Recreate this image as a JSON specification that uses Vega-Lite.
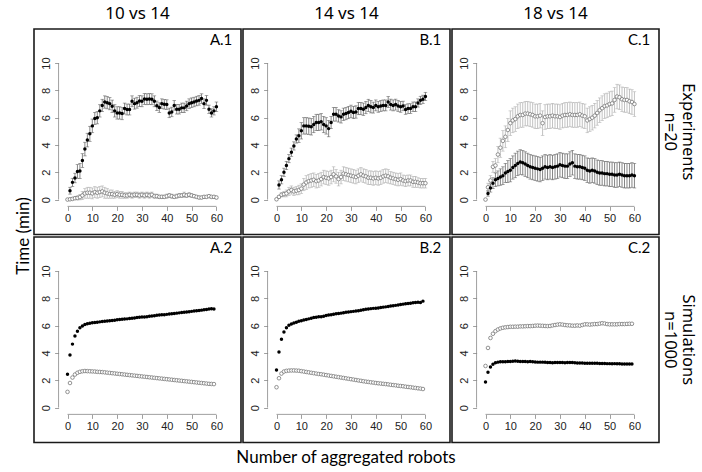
{
"$schema":"https://vega.github.io/schema/vega-lite/v6.json",
"background":"white",
"padding":{"left":14,"top":5,"right":0,"bottom":5},
"data":{"values":[
{"p":"A1","s":"f","x":1,"y":0.65,"e":0.25},{"p":"A1","s":"f","x":2,"y":1.26,"e":0.3},{"p":"A1","s":"f","x":3,"y":1.58,"e":0.35},{"p":"A1","s":"f","x":4,"y":2.06,"e":0.5},{"p":"A1","s":"f","x":5,"y":2.1,"e":0.55},{"p":"A1","s":"f","x":6,"y":2.86,"e":0.5},{"p":"A1","s":"f","x":7,"y":3.7,"e":0.5},{"p":"A1","s":"f","x":8,"y":4.36,"e":0.5},{"p":"A1","s":"f","x":9,"y":4.82,"e":0.55},{"p":"A1","s":"f","x":10,"y":5.4,"e":0.5},
{"p":"A1","s":"f","x":11,"y":5.94,"e":0.45},{"p":"A1","s":"f","x":12,"y":6.0,"e":0.45},{"p":"A1","s":"f","x":13,"y":6.5,"e":0.45},{"p":"A1","s":"f","x":14,"y":6.9,"e":0.45},{"p":"A1","s":"f","x":15,"y":7.15,"e":0.45},{"p":"A1","s":"f","x":16,"y":7.1,"e":0.45},{"p":"A1","s":"f","x":17,"y":7.03,"e":0.45},{"p":"A1","s":"f","x":18,"y":6.84,"e":0.45},{"p":"A1","s":"f","x":19,"y":6.5,"e":0.45},{"p":"A1","s":"f","x":20,"y":6.35,"e":0.45},
{"p":"A1","s":"f","x":21,"y":6.35,"e":0.45},{"p":"A1","s":"f","x":22,"y":6.3,"e":0.45},{"p":"A1","s":"f","x":23,"y":6.67,"e":0.4},{"p":"A1","s":"f","x":24,"y":6.6,"e":0.4},{"p":"A1","s":"f","x":25,"y":6.6,"e":0.4},{"p":"A1","s":"f","x":26,"y":7.2,"e":0.4},{"p":"A1","s":"f","x":27,"y":7.03,"e":0.4},{"p":"A1","s":"f","x":28,"y":7.1,"e":0.4},{"p":"A1","s":"f","x":29,"y":7.22,"e":0.4},{"p":"A1","s":"f","x":30,"y":7.2,"e":0.4},
{"p":"A1","s":"f","x":31,"y":7.37,"e":0.4},{"p":"A1","s":"f","x":32,"y":7.35,"e":0.4},{"p":"A1","s":"f","x":33,"y":7.37,"e":0.4},{"p":"A1","s":"f","x":34,"y":7.35,"e":0.4},{"p":"A1","s":"f","x":35,"y":7.2,"e":0.4},{"p":"A1","s":"f","x":36,"y":6.87,"e":0.35},{"p":"A1","s":"f","x":37,"y":6.74,"e":0.35},{"p":"A1","s":"f","x":38,"y":7.03,"e":0.35},{"p":"A1","s":"f","x":39,"y":6.98,"e":0.35},{"p":"A1","s":"f","x":40,"y":6.96,"e":0.35},
{"p":"A1","s":"f","x":41,"y":6.35,"e":0.35},{"p":"A1","s":"f","x":42,"y":6.42,"e":0.35},{"p":"A1","s":"f","x":43,"y":6.9,"e":0.35},{"p":"A1","s":"f","x":44,"y":6.62,"e":0.35},{"p":"A1","s":"f","x":45,"y":6.62,"e":0.35},{"p":"A1","s":"f","x":46,"y":6.72,"e":0.35},{"p":"A1","s":"f","x":47,"y":6.72,"e":0.35},{"p":"A1","s":"f","x":48,"y":6.86,"e":0.35},{"p":"A1","s":"f","x":49,"y":7.03,"e":0.35},{"p":"A1","s":"f","x":50,"y":7.1,"e":0.35},
{"p":"A1","s":"f","x":51,"y":7.15,"e":0.35},{"p":"A1","s":"f","x":52,"y":7.22,"e":0.35},{"p":"A1","s":"f","x":53,"y":7.27,"e":0.35},{"p":"A1","s":"f","x":54,"y":7.4,"e":0.35},{"p":"A1","s":"f","x":55,"y":7.03,"e":0.35},{"p":"A1","s":"f","x":56,"y":7.27,"e":0.35},{"p":"A1","s":"f","x":57,"y":6.62,"e":0.3},{"p":"A1","s":"f","x":58,"y":6.35,"e":0.3},{"p":"A1","s":"f","x":59,"y":6.5,"e":0.3},{"p":"A1","s":"f","x":60,"y":6.8,"e":0.35},
{"p":"A1","s":"o","x":0,"y":0,"e":0},{"p":"A1","s":"o","x":1,"y":0.02,"e":0.05},{"p":"A1","s":"o","x":2,"y":0.05,"e":0.08},{"p":"A1","s":"o","x":3,"y":0.1,"e":0.1},{"p":"A1","s":"o","x":4,"y":0.12,"e":0.15},{"p":"A1","s":"o","x":5,"y":0.18,"e":0.2},{"p":"A1","s":"o","x":6,"y":0.3,"e":0.3},{"p":"A1","s":"o","x":7,"y":0.45,"e":0.35},{"p":"A1","s":"o","x":8,"y":0.5,"e":0.4},{"p":"A1","s":"o","x":9,"y":0.5,"e":0.4},{"p":"A1","s":"o","x":10,"y":0.45,"e":0.4},
{"p":"A1","s":"o","x":11,"y":0.55,"e":0.4},{"p":"A1","s":"o","x":12,"y":0.5,"e":0.4},{"p":"A1","s":"o","x":13,"y":0.55,"e":0.4},{"p":"A1","s":"o","x":14,"y":0.6,"e":0.4},{"p":"A1","s":"o","x":15,"y":0.5,"e":0.4},{"p":"A1","s":"o","x":16,"y":0.45,"e":0.35},{"p":"A1","s":"o","x":17,"y":0.4,"e":0.3},{"p":"A1","s":"o","x":18,"y":0.4,"e":0.3},{"p":"A1","s":"o","x":19,"y":0.35,"e":0.25},{"p":"A1","s":"o","x":20,"y":0.4,"e":0.25},
{"p":"A1","s":"o","x":21,"y":0.35,"e":0.25},{"p":"A1","s":"o","x":22,"y":0.35,"e":0.25},{"p":"A1","s":"o","x":23,"y":0.3,"e":0.2},{"p":"A1","s":"o","x":24,"y":0.3,"e":0.2},{"p":"A1","s":"o","x":25,"y":0.35,"e":0.2},{"p":"A1","s":"o","x":26,"y":0.3,"e":0.2},{"p":"A1","s":"o","x":27,"y":0.35,"e":0.2},{"p":"A1","s":"o","x":28,"y":0.35,"e":0.2},{"p":"A1","s":"o","x":29,"y":0.3,"e":0.2},{"p":"A1","s":"o","x":30,"y":0.35,"e":0.2},
{"p":"A1","s":"o","x":31,"y":0.3,"e":0.2},{"p":"A1","s":"o","x":32,"y":0.35,"e":0.2},{"p":"A1","s":"o","x":33,"y":0.3,"e":0.2},{"p":"A1","s":"o","x":34,"y":0.35,"e":0.2},{"p":"A1","s":"o","x":35,"y":0.25,"e":0.15},{"p":"A1","s":"o","x":36,"y":0.25,"e":0.15},{"p":"A1","s":"o","x":37,"y":0.2,"e":0.12},{"p":"A1","s":"o","x":38,"y":0.2,"e":0.12},{"p":"A1","s":"o","x":39,"y":0.2,"e":0.12},{"p":"A1","s":"o","x":40,"y":0.25,"e":0.15},
{"p":"A1","s":"o","x":41,"y":0.3,"e":0.15},{"p":"A1","s":"o","x":42,"y":0.25,"e":0.15},{"p":"A1","s":"o","x":43,"y":0.2,"e":0.12},{"p":"A1","s":"o","x":44,"y":0.25,"e":0.15},{"p":"A1","s":"o","x":45,"y":0.3,"e":0.15},{"p":"A1","s":"o","x":46,"y":0.3,"e":0.15},{"p":"A1","s":"o","x":47,"y":0.35,"e":0.2},{"p":"A1","s":"o","x":48,"y":0.3,"e":0.15},{"p":"A1","s":"o","x":49,"y":0.35,"e":0.15},{"p":"A1","s":"o","x":50,"y":0.3,"e":0.15},
{"p":"A1","s":"o","x":51,"y":0.25,"e":0.12},{"p":"A1","s":"o","x":52,"y":0.2,"e":0.1},{"p":"A1","s":"o","x":53,"y":0.15,"e":0.1},{"p":"A1","s":"o","x":54,"y":0.15,"e":0.1},{"p":"A1","s":"o","x":55,"y":0.2,"e":0.1},{"p":"A1","s":"o","x":56,"y":0.2,"e":0.1},{"p":"A1","s":"o","x":57,"y":0.25,"e":0.1},{"p":"A1","s":"o","x":58,"y":0.2,"e":0.1},{"p":"A1","s":"o","x":59,"y":0.2,"e":0.1},{"p":"A1","s":"o","x":60,"y":0.15,"e":0.1},

{"p":"B1","s":"f","x":1,"y":1.07,"e":0.3},{"p":"B1","s":"f","x":2,"y":1.45,"e":0.3},{"p":"B1","s":"f","x":3,"y":2.0,"e":0.3},{"p":"B1","s":"f","x":4,"y":2.5,"e":0.3},{"p":"B1","s":"f","x":5,"y":3.0,"e":0.3},{"p":"B1","s":"f","x":6,"y":3.47,"e":0.3},{"p":"B1","s":"f","x":7,"y":3.93,"e":0.3},{"p":"B1","s":"f","x":8,"y":4.44,"e":0.3},{"p":"B1","s":"f","x":9,"y":4.68,"e":0.5},{"p":"B1","s":"f","x":10,"y":5.04,"e":0.6},
{"p":"B1","s":"f","x":11,"y":5.4,"e":0.6},{"p":"B1","s":"f","x":12,"y":5.4,"e":0.6},{"p":"B1","s":"f","x":13,"y":5.38,"e":0.6},{"p":"B1","s":"f","x":14,"y":5.33,"e":0.6},{"p":"B1","s":"f","x":15,"y":5.5,"e":0.6},{"p":"B1","s":"f","x":16,"y":5.65,"e":0.6},{"p":"B1","s":"f","x":17,"y":5.65,"e":0.6},{"p":"B1","s":"f","x":18,"y":5.7,"e":0.6},{"p":"B1","s":"f","x":19,"y":5.5,"e":0.6},{"p":"B1","s":"f","x":20,"y":5.4,"e":0.6},
{"p":"B1","s":"f","x":21,"y":5.2,"e":0.6},{"p":"B1","s":"f","x":22,"y":5.65,"e":0.45},{"p":"B1","s":"f","x":23,"y":6.25,"e":0.5},{"p":"B1","s":"f","x":24,"y":6.25,"e":0.5},{"p":"B1","s":"f","x":25,"y":6.13,"e":0.45},{"p":"B1","s":"f","x":26,"y":6.06,"e":0.45},{"p":"B1","s":"f","x":27,"y":6.25,"e":0.45},{"p":"B1","s":"f","x":28,"y":6.3,"e":0.45},{"p":"B1","s":"f","x":29,"y":6.38,"e":0.45},{"p":"B1","s":"f","x":30,"y":6.47,"e":0.45},
{"p":"B1","s":"f","x":31,"y":6.38,"e":0.45},{"p":"B1","s":"f","x":32,"y":6.42,"e":0.45},{"p":"B1","s":"f","x":33,"y":6.67,"e":0.45},{"p":"B1","s":"f","x":34,"y":6.67,"e":0.45},{"p":"B1","s":"f","x":35,"y":6.62,"e":0.45},{"p":"B1","s":"f","x":36,"y":6.74,"e":0.45},{"p":"B1","s":"f","x":37,"y":6.9,"e":0.45},{"p":"B1","s":"f","x":38,"y":6.8,"e":0.45},{"p":"B1","s":"f","x":39,"y":6.74,"e":0.4},{"p":"B1","s":"f","x":40,"y":6.9,"e":0.4},
{"p":"B1","s":"f","x":41,"y":6.8,"e":0.4},{"p":"B1","s":"f","x":42,"y":6.86,"e":0.4},{"p":"B1","s":"f","x":43,"y":6.9,"e":0.4},{"p":"B1","s":"f","x":44,"y":6.9,"e":0.4},{"p":"B1","s":"f","x":45,"y":7.15,"e":0.4},{"p":"B1","s":"f","x":46,"y":6.96,"e":0.4},{"p":"B1","s":"f","x":47,"y":6.9,"e":0.4},{"p":"B1","s":"f","x":48,"y":6.96,"e":0.4},{"p":"B1","s":"f","x":49,"y":6.86,"e":0.4},{"p":"B1","s":"f","x":50,"y":6.8,"e":0.4},
{"p":"B1","s":"f","x":51,"y":6.86,"e":0.35},{"p":"B1","s":"f","x":52,"y":6.6,"e":0.35},{"p":"B1","s":"f","x":53,"y":6.67,"e":0.35},{"p":"B1","s":"f","x":54,"y":6.67,"e":0.35},{"p":"B1","s":"f","x":55,"y":6.8,"e":0.35},{"p":"B1","s":"f","x":56,"y":6.8,"e":0.35},{"p":"B1","s":"f","x":57,"y":7.08,"e":0.3},{"p":"B1","s":"f","x":58,"y":7.27,"e":0.3},{"p":"B1","s":"f","x":59,"y":7.35,"e":0.3},{"p":"B1","s":"f","x":60,"y":7.56,"e":0.3},
{"p":"B1","s":"o","x":0,"y":0.02,"e":0.05},{"p":"B1","s":"o","x":1,"y":0.2,"e":0.1},{"p":"B1","s":"o","x":2,"y":0.35,"e":0.15},{"p":"B1","s":"o","x":3,"y":0.4,"e":0.2},{"p":"B1","s":"o","x":4,"y":0.45,"e":0.25},{"p":"B1","s":"o","x":5,"y":0.6,"e":0.3},{"p":"B1","s":"o","x":6,"y":0.7,"e":0.3},{"p":"B1","s":"o","x":7,"y":0.6,"e":0.3},{"p":"B1","s":"o","x":8,"y":0.65,"e":0.3},{"p":"B1","s":"o","x":9,"y":0.7,"e":0.35},{"p":"B1","s":"o","x":10,"y":0.8,"e":0.35},
{"p":"B1","s":"o","x":11,"y":1.1,"e":0.45},{"p":"B1","s":"o","x":12,"y":1.25,"e":0.5},{"p":"B1","s":"o","x":13,"y":1.35,"e":0.5},{"p":"B1","s":"o","x":14,"y":1.4,"e":0.5},{"p":"B1","s":"o","x":15,"y":1.45,"e":0.5},{"p":"B1","s":"o","x":16,"y":1.35,"e":0.5},{"p":"B1","s":"o","x":17,"y":1.4,"e":0.5},{"p":"B1","s":"o","x":18,"y":1.5,"e":0.5},{"p":"B1","s":"o","x":19,"y":1.65,"e":0.5},{"p":"B1","s":"o","x":20,"y":1.6,"e":0.5},
{"p":"B1","s":"o","x":21,"y":1.55,"e":0.5},{"p":"B1","s":"o","x":22,"y":1.65,"e":0.5},{"p":"B1","s":"o","x":23,"y":1.85,"e":0.55},{"p":"B1","s":"o","x":24,"y":1.7,"e":0.5},{"p":"B1","s":"o","x":25,"y":1.5,"e":0.5},{"p":"B1","s":"o","x":26,"y":1.65,"e":0.5},{"p":"B1","s":"o","x":27,"y":1.9,"e":0.5},{"p":"B1","s":"o","x":28,"y":1.85,"e":0.5},{"p":"B1","s":"o","x":29,"y":1.8,"e":0.5},{"p":"B1","s":"o","x":30,"y":1.75,"e":0.5},
{"p":"B1","s":"o","x":31,"y":1.7,"e":0.5},{"p":"B1","s":"o","x":32,"y":1.65,"e":0.5},{"p":"B1","s":"o","x":33,"y":1.75,"e":0.5},{"p":"B1","s":"o","x":34,"y":1.85,"e":0.5},{"p":"B1","s":"o","x":35,"y":1.75,"e":0.5},{"p":"B1","s":"o","x":36,"y":1.7,"e":0.5},{"p":"B1","s":"o","x":37,"y":1.6,"e":0.5},{"p":"B1","s":"o","x":38,"y":1.6,"e":0.5},{"p":"B1","s":"o","x":39,"y":1.55,"e":0.5},{"p":"B1","s":"o","x":40,"y":1.6,"e":0.5},
{"p":"B1","s":"o","x":41,"y":1.55,"e":0.5},{"p":"B1","s":"o","x":42,"y":1.6,"e":0.5},{"p":"B1","s":"o","x":43,"y":1.7,"e":0.5},{"p":"B1","s":"o","x":44,"y":1.75,"e":0.5},{"p":"B1","s":"o","x":45,"y":1.7,"e":0.5},{"p":"B1","s":"o","x":46,"y":1.6,"e":0.45},{"p":"B1","s":"o","x":47,"y":1.55,"e":0.45},{"p":"B1","s":"o","x":48,"y":1.5,"e":0.45},{"p":"B1","s":"o","x":49,"y":1.45,"e":0.45},{"p":"B1","s":"o","x":50,"y":1.5,"e":0.45},
{"p":"B1","s":"o","x":51,"y":1.4,"e":0.4},{"p":"B1","s":"o","x":52,"y":1.35,"e":0.4},{"p":"B1","s":"o","x":53,"y":1.4,"e":0.4},{"p":"B1","s":"o","x":54,"y":1.4,"e":0.4},{"p":"B1","s":"o","x":55,"y":1.3,"e":0.4},{"p":"B1","s":"o","x":56,"y":1.3,"e":0.4},{"p":"B1","s":"o","x":57,"y":1.25,"e":0.35},{"p":"B1","s":"o","x":58,"y":1.2,"e":0.35},{"p":"B1","s":"o","x":59,"y":1.2,"e":0.35},{"p":"B1","s":"o","x":60,"y":1.2,"e":0.35},

{"p":"C1","s":"o","x":0,"y":0,"e":0},{"p":"C1","s":"o","x":1,"y":0.9,"e":0.3},{"p":"C1","s":"o","x":2,"y":1.4,"e":0.35},{"p":"C1","s":"o","x":3,"y":2.4,"e":0.4},{"p":"C1","s":"o","x":4,"y":2.5,"e":0.5},{"p":"C1","s":"o","x":5,"y":3.3,"e":0.6},{"p":"C1","s":"o","x":6,"y":3.8,"e":0.7},{"p":"C1","s":"o","x":7,"y":4.3,"e":0.75},{"p":"C1","s":"o","x":8,"y":4.6,"e":0.8},{"p":"C1","s":"o","x":9,"y":5.1,"e":0.85},{"p":"C1","s":"o","x":10,"y":5.6,"e":0.9},
{"p":"C1","s":"o","x":11,"y":5.8,"e":0.9},{"p":"C1","s":"o","x":12,"y":5.9,"e":0.9},{"p":"C1","s":"o","x":13,"y":6.1,"e":0.9},{"p":"C1","s":"o","x":14,"y":6.2,"e":0.9},{"p":"C1","s":"o","x":15,"y":6.2,"e":0.9},{"p":"C1","s":"o","x":16,"y":6.3,"e":0.9},{"p":"C1","s":"o","x":17,"y":6.3,"e":0.9},{"p":"C1","s":"o","x":18,"y":6.25,"e":0.9},{"p":"C1","s":"o","x":19,"y":6.2,"e":0.9},{"p":"C1","s":"o","x":20,"y":6.1,"e":0.9},
{"p":"C1","s":"o","x":21,"y":6.1,"e":0.9},{"p":"C1","s":"o","x":22,"y":6.15,"e":0.9},{"p":"C1","s":"o","x":23,"y":5.6,"e":0.9},{"p":"C1","s":"o","x":24,"y":6.05,"e":0.9},{"p":"C1","s":"o","x":25,"y":6.1,"e":0.9},{"p":"C1","s":"o","x":26,"y":6.1,"e":0.9},{"p":"C1","s":"o","x":27,"y":6.15,"e":0.9},{"p":"C1","s":"o","x":28,"y":6.1,"e":0.9},{"p":"C1","s":"o","x":29,"y":6.1,"e":0.9},{"p":"C1","s":"o","x":30,"y":6.05,"e":0.9},
{"p":"C1","s":"o","x":31,"y":6.15,"e":0.9},{"p":"C1","s":"o","x":32,"y":6.2,"e":0.9},{"p":"C1","s":"o","x":33,"y":6.2,"e":0.9},{"p":"C1","s":"o","x":34,"y":6.25,"e":0.9},{"p":"C1","s":"o","x":35,"y":6.2,"e":0.9},{"p":"C1","s":"o","x":36,"y":6.2,"e":0.9},{"p":"C1","s":"o","x":37,"y":6.2,"e":0.9},{"p":"C1","s":"o","x":38,"y":6.25,"e":0.9},{"p":"C1","s":"o","x":39,"y":6.15,"e":0.9},{"p":"C1","s":"o","x":40,"y":6.1,"e":0.9},
{"p":"C1","s":"o","x":41,"y":5.8,"e":0.9},{"p":"C1","s":"o","x":42,"y":5.9,"e":0.9},{"p":"C1","s":"o","x":43,"y":6.0,"e":0.9},{"p":"C1","s":"o","x":44,"y":6.15,"e":0.9},{"p":"C1","s":"o","x":45,"y":6.35,"e":0.9},{"p":"C1","s":"o","x":46,"y":6.55,"e":0.9},{"p":"C1","s":"o","x":47,"y":6.7,"e":0.9},{"p":"C1","s":"o","x":48,"y":6.85,"e":0.9},{"p":"C1","s":"o","x":49,"y":6.9,"e":0.9},{"p":"C1","s":"o","x":50,"y":7.0,"e":0.9},
{"p":"C1","s":"o","x":51,"y":7.05,"e":0.9},{"p":"C1","s":"o","x":52,"y":7.3,"e":0.9},{"p":"C1","s":"o","x":53,"y":7.55,"e":0.9},{"p":"C1","s":"o","x":54,"y":7.5,"e":0.9},{"p":"C1","s":"o","x":55,"y":7.35,"e":0.9},{"p":"C1","s":"o","x":56,"y":7.3,"e":0.9},{"p":"C1","s":"o","x":57,"y":7.3,"e":0.9},{"p":"C1","s":"o","x":58,"y":7.2,"e":0.9},{"p":"C1","s":"o","x":59,"y":7.15,"e":0.9},{"p":"C1","s":"o","x":60,"y":7.0,"e":0.9},
{"p":"C1","s":"f","x":1,"y":0.45,"e":0.2},{"p":"C1","s":"f","x":2,"y":0.85,"e":0.3},{"p":"C1","s":"f","x":3,"y":1.2,"e":0.4},{"p":"C1","s":"f","x":4,"y":1.45,"e":0.5},{"p":"C1","s":"f","x":5,"y":1.55,"e":0.55},{"p":"C1","s":"f","x":6,"y":1.65,"e":0.6},{"p":"C1","s":"f","x":7,"y":1.75,"e":0.65},{"p":"C1","s":"f","x":8,"y":1.95,"e":0.7},{"p":"C1","s":"f","x":9,"y":2.05,"e":0.8},{"p":"C1","s":"f","x":10,"y":2.15,"e":0.85},
{"p":"C1","s":"f","x":11,"y":2.35,"e":0.85},{"p":"C1","s":"f","x":12,"y":2.5,"e":0.9},{"p":"C1","s":"f","x":13,"y":2.65,"e":0.9},{"p":"C1","s":"f","x":14,"y":2.75,"e":0.9},{"p":"C1","s":"f","x":15,"y":2.7,"e":0.9},{"p":"C1","s":"f","x":16,"y":2.6,"e":0.9},{"p":"C1","s":"f","x":17,"y":2.5,"e":0.9},{"p":"C1","s":"f","x":18,"y":2.4,"e":0.9},{"p":"C1","s":"f","x":19,"y":2.35,"e":0.9},{"p":"C1","s":"f","x":20,"y":2.3,"e":0.9},
{"p":"C1","s":"f","x":21,"y":2.25,"e":0.9},{"p":"C1","s":"f","x":22,"y":2.2,"e":0.9},{"p":"C1","s":"f","x":23,"y":2.3,"e":0.9},{"p":"C1","s":"f","x":24,"y":2.4,"e":0.9},{"p":"C1","s":"f","x":25,"y":2.35,"e":0.9},{"p":"C1","s":"f","x":26,"y":2.4,"e":0.9},{"p":"C1","s":"f","x":27,"y":2.35,"e":0.9},{"p":"C1","s":"f","x":28,"y":2.4,"e":0.9},{"p":"C1","s":"f","x":29,"y":2.45,"e":0.9},{"p":"C1","s":"f","x":30,"y":2.55,"e":0.9},
{"p":"C1","s":"f","x":31,"y":2.5,"e":0.9},{"p":"C1","s":"f","x":32,"y":2.45,"e":0.9},{"p":"C1","s":"f","x":33,"y":2.45,"e":0.9},{"p":"C1","s":"f","x":34,"y":2.6,"e":0.9},{"p":"C1","s":"f","x":35,"y":2.7,"e":0.9},{"p":"C1","s":"f","x":36,"y":2.45,"e":0.9},{"p":"C1","s":"f","x":37,"y":2.4,"e":0.9},{"p":"C1","s":"f","x":38,"y":2.4,"e":0.9},{"p":"C1","s":"f","x":39,"y":2.35,"e":0.9},{"p":"C1","s":"f","x":40,"y":2.3,"e":0.9},
{"p":"C1","s":"f","x":41,"y":2.15,"e":0.9},{"p":"C1","s":"f","x":42,"y":2.1,"e":0.9},{"p":"C1","s":"f","x":43,"y":2.15,"e":0.9},{"p":"C1","s":"f","x":44,"y":2.1,"e":0.9},{"p":"C1","s":"f","x":45,"y":2.0,"e":0.9},{"p":"C1","s":"f","x":46,"y":1.95,"e":0.9},{"p":"C1","s":"f","x":47,"y":1.95,"e":0.9},{"p":"C1","s":"f","x":48,"y":1.9,"e":0.9},{"p":"C1","s":"f","x":49,"y":1.9,"e":0.9},{"p":"C1","s":"f","x":50,"y":1.85,"e":0.9},
{"p":"C1","s":"f","x":51,"y":1.85,"e":0.9},{"p":"C1","s":"f","x":52,"y":1.8,"e":0.9},{"p":"C1","s":"f","x":53,"y":1.8,"e":0.9},{"p":"C1","s":"f","x":54,"y":1.85,"e":0.9},{"p":"C1","s":"f","x":55,"y":1.8,"e":0.9},{"p":"C1","s":"f","x":56,"y":1.75,"e":0.9},{"p":"C1","s":"f","x":57,"y":1.75,"e":0.9},{"p":"C1","s":"f","x":58,"y":1.75,"e":0.9},{"p":"C1","s":"f","x":59,"y":1.8,"e":0.9},{"p":"C1","s":"f","x":60,"y":1.75,"e":0.9},

{"p":"A2","s":"f","x":0,"y":2.44},{"p":"A2","s":"f","x":1,"y":3.85},{"p":"A2","s":"f","x":2,"y":4.65},{"p":"A2","s":"f","x":3,"y":5.24},{"p":"A2","s":"f","x":4,"y":5.6},{"p":"A2","s":"f","x":5,"y":5.85},{"p":"A2","s":"f","x":6,"y":5.98},{"p":"A2","s":"f","x":7,"y":6.08},{"p":"A2","s":"f","x":8,"y":6.14},{"p":"A2","s":"f","x":9,"y":6.18},
{"p":"A2","s":"f","x":10,"y":6.22},{"p":"A2","s":"f","x":11,"y":6.24},{"p":"A2","s":"f","x":12,"y":6.26},{"p":"A2","s":"f","x":13,"y":6.28},{"p":"A2","s":"f","x":14,"y":6.3},{"p":"A2","s":"f","x":15,"y":6.32},{"p":"A2","s":"f","x":16,"y":6.34},{"p":"A2","s":"f","x":17,"y":6.36},{"p":"A2","s":"f","x":18,"y":6.38},{"p":"A2","s":"f","x":19,"y":6.4},
{"p":"A2","s":"f","x":20,"y":6.44},{"p":"A2","s":"f","x":21,"y":6.45},{"p":"A2","s":"f","x":22,"y":6.47},{"p":"A2","s":"f","x":23,"y":6.49},{"p":"A2","s":"f","x":24,"y":6.5},{"p":"A2","s":"f","x":25,"y":6.53},{"p":"A2","s":"f","x":26,"y":6.55},{"p":"A2","s":"f","x":27,"y":6.56},{"p":"A2","s":"f","x":28,"y":6.6},{"p":"A2","s":"f","x":29,"y":6.62},
{"p":"A2","s":"f","x":30,"y":6.63},{"p":"A2","s":"f","x":31,"y":6.64},{"p":"A2","s":"f","x":32,"y":6.66},{"p":"A2","s":"f","x":33,"y":6.7},{"p":"A2","s":"f","x":34,"y":6.71},{"p":"A2","s":"f","x":35,"y":6.73},{"p":"A2","s":"f","x":36,"y":6.77},{"p":"A2","s":"f","x":37,"y":6.79},{"p":"A2","s":"f","x":38,"y":6.8},{"p":"A2","s":"f","x":39,"y":6.81},
{"p":"A2","s":"f","x":40,"y":6.83},{"p":"A2","s":"f","x":41,"y":6.85},{"p":"A2","s":"f","x":42,"y":6.87},{"p":"A2","s":"f","x":43,"y":6.9},{"p":"A2","s":"f","x":44,"y":6.92},{"p":"A2","s":"f","x":45,"y":6.94},{"p":"A2","s":"f","x":46,"y":6.97},{"p":"A2","s":"f","x":47,"y":6.99},{"p":"A2","s":"f","x":48,"y":7.01},{"p":"A2","s":"f","x":49,"y":7.02},
{"p":"A2","s":"f","x":50,"y":7.05},{"p":"A2","s":"f","x":51,"y":7.07},{"p":"A2","s":"f","x":52,"y":7.1},{"p":"A2","s":"f","x":53,"y":7.12},{"p":"A2","s":"f","x":54,"y":7.14},{"p":"A2","s":"f","x":55,"y":7.17},{"p":"A2","s":"f","x":56,"y":7.19},{"p":"A2","s":"f","x":57,"y":7.22},{"p":"A2","s":"f","x":58,"y":7.24},{"p":"A2","s":"f","x":59,"y":7.22},
{"p":"A2","s":"o","x":0,"y":1.15},{"p":"A2","s":"o","x":1,"y":1.8},{"p":"A2","s":"o","x":2,"y":2.2},{"p":"A2","s":"o","x":3,"y":2.42},{"p":"A2","s":"o","x":4,"y":2.55},{"p":"A2","s":"o","x":5,"y":2.62},{"p":"A2","s":"o","x":6,"y":2.66},{"p":"A2","s":"o","x":7,"y":2.68},{"p":"A2","s":"o","x":8,"y":2.67},{"p":"A2","s":"o","x":9,"y":2.66},
{"p":"A2","s":"o","x":10,"y":2.65},{"p":"A2","s":"o","x":11,"y":2.64},{"p":"A2","s":"o","x":12,"y":2.62},{"p":"A2","s":"o","x":13,"y":2.61},{"p":"A2","s":"o","x":14,"y":2.6},{"p":"A2","s":"o","x":15,"y":2.58},{"p":"A2","s":"o","x":16,"y":2.56},{"p":"A2","s":"o","x":17,"y":2.54},{"p":"A2","s":"o","x":18,"y":2.52},{"p":"A2","s":"o","x":19,"y":2.5},
{"p":"A2","s":"o","x":20,"y":2.48},{"p":"A2","s":"o","x":21,"y":2.46},{"p":"A2","s":"o","x":22,"y":2.44},{"p":"A2","s":"o","x":23,"y":2.42},{"p":"A2","s":"o","x":24,"y":2.4},{"p":"A2","s":"o","x":25,"y":2.38},{"p":"A2","s":"o","x":26,"y":2.36},{"p":"A2","s":"o","x":27,"y":2.34},{"p":"A2","s":"o","x":28,"y":2.32},{"p":"A2","s":"o","x":29,"y":2.3},
{"p":"A2","s":"o","x":30,"y":2.28},{"p":"A2","s":"o","x":31,"y":2.26},{"p":"A2","s":"o","x":32,"y":2.24},{"p":"A2","s":"o","x":33,"y":2.22},{"p":"A2","s":"o","x":34,"y":2.2},{"p":"A2","s":"o","x":35,"y":2.18},{"p":"A2","s":"o","x":36,"y":2.16},{"p":"A2","s":"o","x":37,"y":2.14},{"p":"A2","s":"o","x":38,"y":2.12},{"p":"A2","s":"o","x":39,"y":2.1},
{"p":"A2","s":"o","x":40,"y":2.08},{"p":"A2","s":"o","x":41,"y":2.06},{"p":"A2","s":"o","x":42,"y":2.04},{"p":"A2","s":"o","x":43,"y":2.02},{"p":"A2","s":"o","x":44,"y":2.0},{"p":"A2","s":"o","x":45,"y":1.98},{"p":"A2","s":"o","x":46,"y":1.96},{"p":"A2","s":"o","x":47,"y":1.94},{"p":"A2","s":"o","x":48,"y":1.92},{"p":"A2","s":"o","x":49,"y":1.9},
{"p":"A2","s":"o","x":50,"y":1.88},{"p":"A2","s":"o","x":51,"y":1.86},{"p":"A2","s":"o","x":52,"y":1.84},{"p":"A2","s":"o","x":53,"y":1.82},{"p":"A2","s":"o","x":54,"y":1.8},{"p":"A2","s":"o","x":55,"y":1.78},{"p":"A2","s":"o","x":56,"y":1.76},{"p":"A2","s":"o","x":57,"y":1.74},{"p":"A2","s":"o","x":58,"y":1.73},{"p":"A2","s":"o","x":59,"y":1.72},

{"p":"B2","s":"f","x":0,"y":2.76},{"p":"B2","s":"f","x":1,"y":4.07},{"p":"B2","s":"f","x":2,"y":5.0},{"p":"B2","s":"f","x":3,"y":5.54},{"p":"B2","s":"f","x":4,"y":5.85},{"p":"B2","s":"f","x":5,"y":6.03},{"p":"B2","s":"f","x":6,"y":6.12},{"p":"B2","s":"f","x":7,"y":6.2},{"p":"B2","s":"f","x":8,"y":6.26},{"p":"B2","s":"f","x":9,"y":6.32},
{"p":"B2","s":"f","x":10,"y":6.37},{"p":"B2","s":"f","x":11,"y":6.41},{"p":"B2","s":"f","x":12,"y":6.46},{"p":"B2","s":"f","x":13,"y":6.5},{"p":"B2","s":"f","x":14,"y":6.55},{"p":"B2","s":"f","x":15,"y":6.6},{"p":"B2","s":"f","x":16,"y":6.62},{"p":"B2","s":"f","x":17,"y":6.65},{"p":"B2","s":"f","x":18,"y":6.66},{"p":"B2","s":"f","x":19,"y":6.7},
{"p":"B2","s":"f","x":20,"y":6.74},{"p":"B2","s":"f","x":21,"y":6.78},{"p":"B2","s":"f","x":22,"y":6.8},{"p":"B2","s":"f","x":23,"y":6.84},{"p":"B2","s":"f","x":24,"y":6.87},{"p":"B2","s":"f","x":25,"y":6.9},{"p":"B2","s":"f","x":26,"y":6.92},{"p":"B2","s":"f","x":27,"y":6.95},{"p":"B2","s":"f","x":28,"y":6.98},{"p":"B2","s":"f","x":29,"y":7.0},
{"p":"B2","s":"f","x":30,"y":7.03},{"p":"B2","s":"f","x":31,"y":7.05},{"p":"B2","s":"f","x":32,"y":7.08},{"p":"B2","s":"f","x":33,"y":7.1},{"p":"B2","s":"f","x":34,"y":7.13},{"p":"B2","s":"f","x":35,"y":7.17},{"p":"B2","s":"f","x":36,"y":7.2},{"p":"B2","s":"f","x":37,"y":7.22},{"p":"B2","s":"f","x":38,"y":7.25},{"p":"B2","s":"f","x":39,"y":7.27},
{"p":"B2","s":"f","x":40,"y":7.28},{"p":"B2","s":"f","x":41,"y":7.3},{"p":"B2","s":"f","x":42,"y":7.33},{"p":"B2","s":"f","x":43,"y":7.36},{"p":"B2","s":"f","x":44,"y":7.38},{"p":"B2","s":"f","x":45,"y":7.41},{"p":"B2","s":"f","x":46,"y":7.44},{"p":"B2","s":"f","x":47,"y":7.46},{"p":"B2","s":"f","x":48,"y":7.49},{"p":"B2","s":"f","x":49,"y":7.52},
{"p":"B2","s":"f","x":50,"y":7.55},{"p":"B2","s":"f","x":51,"y":7.58},{"p":"B2","s":"f","x":52,"y":7.61},{"p":"B2","s":"f","x":53,"y":7.63},{"p":"B2","s":"f","x":54,"y":7.65},{"p":"B2","s":"f","x":55,"y":7.68},{"p":"B2","s":"f","x":56,"y":7.7},{"p":"B2","s":"f","x":57,"y":7.72},{"p":"B2","s":"f","x":58,"y":7.7},{"p":"B2","s":"f","x":59,"y":7.8},
{"p":"B2","s":"o","x":0,"y":1.49},{"p":"B2","s":"o","x":1,"y":2.15},{"p":"B2","s":"o","x":2,"y":2.49},{"p":"B2","s":"o","x":3,"y":2.64},{"p":"B2","s":"o","x":4,"y":2.69},{"p":"B2","s":"o","x":5,"y":2.71},{"p":"B2","s":"o","x":6,"y":2.72},{"p":"B2","s":"o","x":7,"y":2.72},{"p":"B2","s":"o","x":8,"y":2.71},{"p":"B2","s":"o","x":9,"y":2.7},
{"p":"B2","s":"o","x":10,"y":2.67},{"p":"B2","s":"o","x":11,"y":2.64},{"p":"B2","s":"o","x":12,"y":2.61},{"p":"B2","s":"o","x":13,"y":2.58},{"p":"B2","s":"o","x":14,"y":2.55},{"p":"B2","s":"o","x":15,"y":2.52},{"p":"B2","s":"o","x":16,"y":2.49},{"p":"B2","s":"o","x":17,"y":2.46},{"p":"B2","s":"o","x":18,"y":2.44},{"p":"B2","s":"o","x":19,"y":2.41},
{"p":"B2","s":"o","x":20,"y":2.38},{"p":"B2","s":"o","x":21,"y":2.35},{"p":"B2","s":"o","x":22,"y":2.32},{"p":"B2","s":"o","x":23,"y":2.29},{"p":"B2","s":"o","x":24,"y":2.26},{"p":"B2","s":"o","x":25,"y":2.23},{"p":"B2","s":"o","x":26,"y":2.2},{"p":"B2","s":"o","x":27,"y":2.17},{"p":"B2","s":"o","x":28,"y":2.14},{"p":"B2","s":"o","x":29,"y":2.11},
{"p":"B2","s":"o","x":30,"y":2.08},{"p":"B2","s":"o","x":31,"y":2.05},{"p":"B2","s":"o","x":32,"y":2.02},{"p":"B2","s":"o","x":33,"y":1.99},{"p":"B2","s":"o","x":34,"y":1.96},{"p":"B2","s":"o","x":35,"y":1.93},{"p":"B2","s":"o","x":36,"y":1.9},{"p":"B2","s":"o","x":37,"y":1.88},{"p":"B2","s":"o","x":38,"y":1.85},{"p":"B2","s":"o","x":39,"y":1.83},
{"p":"B2","s":"o","x":40,"y":1.8},{"p":"B2","s":"o","x":41,"y":1.78},{"p":"B2","s":"o","x":42,"y":1.76},{"p":"B2","s":"o","x":43,"y":1.74},{"p":"B2","s":"o","x":44,"y":1.72},{"p":"B2","s":"o","x":45,"y":1.7},{"p":"B2","s":"o","x":46,"y":1.67},{"p":"B2","s":"o","x":47,"y":1.65},{"p":"B2","s":"o","x":48,"y":1.63},{"p":"B2","s":"o","x":49,"y":1.6},
{"p":"B2","s":"o","x":50,"y":1.58},{"p":"B2","s":"o","x":51,"y":1.56},{"p":"B2","s":"o","x":52,"y":1.53},{"p":"B2","s":"o","x":53,"y":1.51},{"p":"B2","s":"o","x":54,"y":1.49},{"p":"B2","s":"o","x":55,"y":1.46},{"p":"B2","s":"o","x":56,"y":1.44},{"p":"B2","s":"o","x":57,"y":1.41},{"p":"B2","s":"o","x":58,"y":1.39},{"p":"B2","s":"o","x":59,"y":1.36},

{"p":"C2","s":"o","x":0,"y":3.05},{"p":"C2","s":"o","x":1,"y":4.37},{"p":"C2","s":"o","x":2,"y":5.1},{"p":"C2","s":"o","x":3,"y":5.41},{"p":"C2","s":"o","x":4,"y":5.6},{"p":"C2","s":"o","x":5,"y":5.72},{"p":"C2","s":"o","x":6,"y":5.8},{"p":"C2","s":"o","x":7,"y":5.85},{"p":"C2","s":"o","x":8,"y":5.88},{"p":"C2","s":"o","x":9,"y":5.9},
{"p":"C2","s":"o","x":10,"y":5.92},{"p":"C2","s":"o","x":11,"y":5.92},{"p":"C2","s":"o","x":12,"y":5.93},{"p":"C2","s":"o","x":13,"y":5.93},{"p":"C2","s":"o","x":14,"y":5.95},{"p":"C2","s":"o","x":15,"y":5.95},{"p":"C2","s":"o","x":16,"y":5.96},{"p":"C2","s":"o","x":17,"y":5.97},{"p":"C2","s":"o","x":18,"y":5.97},{"p":"C2","s":"o","x":19,"y":5.98},
{"p":"C2","s":"o","x":20,"y":6.0},{"p":"C2","s":"o","x":21,"y":6.01},{"p":"C2","s":"o","x":22,"y":6.0},{"p":"C2","s":"o","x":23,"y":5.99},{"p":"C2","s":"o","x":24,"y":5.98},{"p":"C2","s":"o","x":25,"y":5.97},{"p":"C2","s":"o","x":26,"y":5.98},{"p":"C2","s":"o","x":27,"y":6.02},{"p":"C2","s":"o","x":28,"y":6.05},{"p":"C2","s":"o","x":29,"y":6.08},
{"p":"C2","s":"o","x":30,"y":6.1},{"p":"C2","s":"o","x":31,"y":6.08},{"p":"C2","s":"o","x":32,"y":6.05},{"p":"C2","s":"o","x":33,"y":6.03},{"p":"C2","s":"o","x":34,"y":6.02},{"p":"C2","s":"o","x":35,"y":6.0},{"p":"C2","s":"o","x":36,"y":6.0},{"p":"C2","s":"o","x":37,"y":6.02},{"p":"C2","s":"o","x":38,"y":6.0},{"p":"C2","s":"o","x":39,"y":6.05},
{"p":"C2","s":"o","x":40,"y":6.1},{"p":"C2","s":"o","x":41,"y":6.1},{"p":"C2","s":"o","x":42,"y":6.08},{"p":"C2","s":"o","x":43,"y":6.1},{"p":"C2","s":"o","x":44,"y":6.12},{"p":"C2","s":"o","x":45,"y":6.12},{"p":"C2","s":"o","x":46,"y":6.15},{"p":"C2","s":"o","x":47,"y":6.18},{"p":"C2","s":"o","x":48,"y":6.16},{"p":"C2","s":"o","x":49,"y":6.12},
{"p":"C2","s":"o","x":50,"y":6.1},{"p":"C2","s":"o","x":51,"y":6.1},{"p":"C2","s":"o","x":52,"y":6.1},{"p":"C2","s":"o","x":53,"y":6.1},{"p":"C2","s":"o","x":54,"y":6.12},{"p":"C2","s":"o","x":55,"y":6.12},{"p":"C2","s":"o","x":56,"y":6.12},{"p":"C2","s":"o","x":57,"y":6.13},{"p":"C2","s":"o","x":58,"y":6.14},{"p":"C2","s":"o","x":59,"y":6.14},
{"p":"C2","s":"f","x":0,"y":1.88},{"p":"C2","s":"f","x":1,"y":2.59},{"p":"C2","s":"f","x":2,"y":2.98},{"p":"C2","s":"f","x":3,"y":3.17},{"p":"C2","s":"f","x":4,"y":3.28},{"p":"C2","s":"f","x":5,"y":3.33},{"p":"C2","s":"f","x":6,"y":3.35},{"p":"C2","s":"f","x":7,"y":3.36},{"p":"C2","s":"f","x":8,"y":3.36},{"p":"C2","s":"f","x":9,"y":3.37},
{"p":"C2","s":"f","x":10,"y":3.37},{"p":"C2","s":"f","x":11,"y":3.4},{"p":"C2","s":"f","x":12,"y":3.41},{"p":"C2","s":"f","x":13,"y":3.4},{"p":"C2","s":"f","x":14,"y":3.38},{"p":"C2","s":"f","x":15,"y":3.38},{"p":"C2","s":"f","x":16,"y":3.37},{"p":"C2","s":"f","x":17,"y":3.36},{"p":"C2","s":"f","x":18,"y":3.37},{"p":"C2","s":"f","x":19,"y":3.35},
{"p":"C2","s":"f","x":20,"y":3.34},{"p":"C2","s":"f","x":21,"y":3.33},{"p":"C2","s":"f","x":22,"y":3.33},{"p":"C2","s":"f","x":23,"y":3.33},{"p":"C2","s":"f","x":24,"y":3.32},{"p":"C2","s":"f","x":25,"y":3.3},{"p":"C2","s":"f","x":26,"y":3.3},{"p":"C2","s":"f","x":27,"y":3.29},{"p":"C2","s":"f","x":28,"y":3.3},{"p":"C2","s":"f","x":29,"y":3.3},
{"p":"C2","s":"f","x":30,"y":3.31},{"p":"C2","s":"f","x":31,"y":3.3},{"p":"C2","s":"f","x":32,"y":3.29},{"p":"C2","s":"f","x":33,"y":3.3},{"p":"C2","s":"f","x":34,"y":3.31},{"p":"C2","s":"f","x":35,"y":3.3},{"p":"C2","s":"f","x":36,"y":3.28},{"p":"C2","s":"f","x":37,"y":3.27},{"p":"C2","s":"f","x":38,"y":3.26},{"p":"C2","s":"f","x":39,"y":3.26},
{"p":"C2","s":"f","x":40,"y":3.25},{"p":"C2","s":"f","x":41,"y":3.25},{"p":"C2","s":"f","x":42,"y":3.24},{"p":"C2","s":"f","x":43,"y":3.24},{"p":"C2","s":"f","x":44,"y":3.24},{"p":"C2","s":"f","x":45,"y":3.24},{"p":"C2","s":"f","x":46,"y":3.23},{"p":"C2","s":"f","x":47,"y":3.23},{"p":"C2","s":"f","x":48,"y":3.23},{"p":"C2","s":"f","x":49,"y":3.22},
{"p":"C2","s":"f","x":50,"y":3.22},{"p":"C2","s":"f","x":51,"y":3.21},{"p":"C2","s":"f","x":52,"y":3.22},{"p":"C2","s":"f","x":53,"y":3.21},{"p":"C2","s":"f","x":54,"y":3.21},{"p":"C2","s":"f","x":55,"y":3.2},{"p":"C2","s":"f","x":56,"y":3.2},{"p":"C2","s":"f","x":57,"y":3.2},{"p":"C2","s":"f","x":58,"y":3.2},{"p":"C2","s":"f","x":59,"y":3.2}
]},
"transform":[{"lookup":"p","from":{"data":{"values":[
{"p":"A1","col":"10 vs 14","row":"Experiments|n=20","lab":"A.1"},
{"p":"B1","col":"14 vs 14","row":"Experiments|n=20","lab":"B.1"},
{"p":"C1","col":"18 vs 14","row":"Experiments|n=20","lab":"C.1"},
{"p":"A2","col":"10 vs 14","row":"Simulations|n=1000","lab":"A.2"},
{"p":"B2","col":"14 vs 14","row":"Simulations|n=1000","lab":"B.2"},
{"p":"C2","col":"18 vs 14","row":"Simulations|n=1000","lab":"C.2"}]},"key":"p","fields":["col","row","lab"]}}],
"facet":{
"column":{"field":"col","type":"nominal","title":"Number of aggregated robots","header":{"labelOrient":"top","titleOrient":"bottom","labelFont":"Noto Sans","titleFont":"Lato","labelFontSize":17,"titleFontSize":17,"titleFontWeight":"normal","labelColor":"#000","titleColor":"#000","labelPadding":5,"titlePadding":-4}},
"row":{"field":"row","type":"nominal","title":"Time (min)","header":{"labelOrient":"right","titleOrient":"left","labelAngle":90,"labelExpr":"split(datum.value,'|')","labelFont":"Noto Sans","titleFont":"Lato","labelFontSize":16.5,"titleFontSize":17,"titleFontWeight":"normal","labelColor":"#000","titleColor":"#000","labelPadding":1,"titlePadding":-10,"labelLineHeight":18.5}}
},
"spacing":0,
"resolve":{"axis":{"x":"independent","y":"independent"}},
"spec":{
"width":207,"height":205.5,
"encoding":{
"x":{"field":"x","type":"quantitative","scale":{"domain":[-13.5,69.9],"nice":false,"zero":false},
"axis":{"values":[0,10,20,30,40,50,60],"domain":false,"grid":false,"offset":-28.1,"tickColor":"#888","tickSize":4,"tickWidth":0.8,"labelFont":"Liberation Sans","labelFontSize":11,"labelColor":"#222","labelPadding":2,"labelFlush":false,"labelOverlap":false,"labelBound":false,"labelSeparation":-30,"title":null}},
"y":{"field":"y","type":"quantitative","scale":{"domain":[-2.56,12.5],"nice":false,"zero":false},
"axis":{"values":[0,2,4,6,8,10],"domain":false,"grid":false,"offset":-24.6,"tickColor":"#888","tickSize":4,"tickWidth":0.8,"labelFont":"Liberation Sans","labelFontSize":11,"labelColor":"#222","labelPadding":3,"labelAngle":-90,"labelAlign":"center","labelBaseline":"bottom","labelFlush":false,"labelOverlap":false,"labelBound":false,"title":null}}
},
"layer":[
{"transform":[{"filter":"isValid(datum.e)"}],
"mark":{"type":"errorbar","ticks":{"size":3.5},"thickness":0.7},
"encoding":{
"yError":{"field":"e"},
"color":{"field":"s","type":"nominal","scale":{"domain":["f","o"],"range":["#505050","#a8a8a8"]},"legend":null}}},
{"transform":[{"filter":"datum.s=='o'"}],
"mark":{"type":"circle","fill":"white","stroke":"#777777","strokeWidth":0.8,"size":13,"opacity":1}},
{"transform":[{"filter":"datum.s=='f'"}],
"mark":{"type":"circle","color":"#000000","size":12,"opacity":1}},
{"transform":[{"filter":"datum.s=='o' && datum.x==0"}],
"mark":{"type":"rule","color":"#888888","strokeWidth":0.8},
"encoding":{"x":{"datum":0},"x2":{"datum":60},"y":{"datum":-0.5}}},
{"transform":[{"filter":"datum.s=='o' && datum.x==0"}],
"mark":{"type":"rule","color":"#888888","strokeWidth":0.8},
"encoding":{"x":{"datum":-3.6},"y":{"datum":0},"y2":{"datum":10}}},
{"transform":[{"filter":"datum.s=='o' && datum.x==0"}],
"mark":{"type":"text","align":"right","baseline":"middle","font":"Lato","fontSize":15,"color":"#000"},
"encoding":{"x":{"datum":66.4},"y":{"datum":11.7},"text":{"field":"lab","type":"nominal"}}}
]},
"config":{"view":{"stroke":"#1a1a1a","strokeWidth":1.6},"mark":{"color":"#222222"},"text":{"color":"#222222"},"axisX":{"labelOverlap":false,"labelBound":false},"axis":{"labelOverlap":false}}
}
